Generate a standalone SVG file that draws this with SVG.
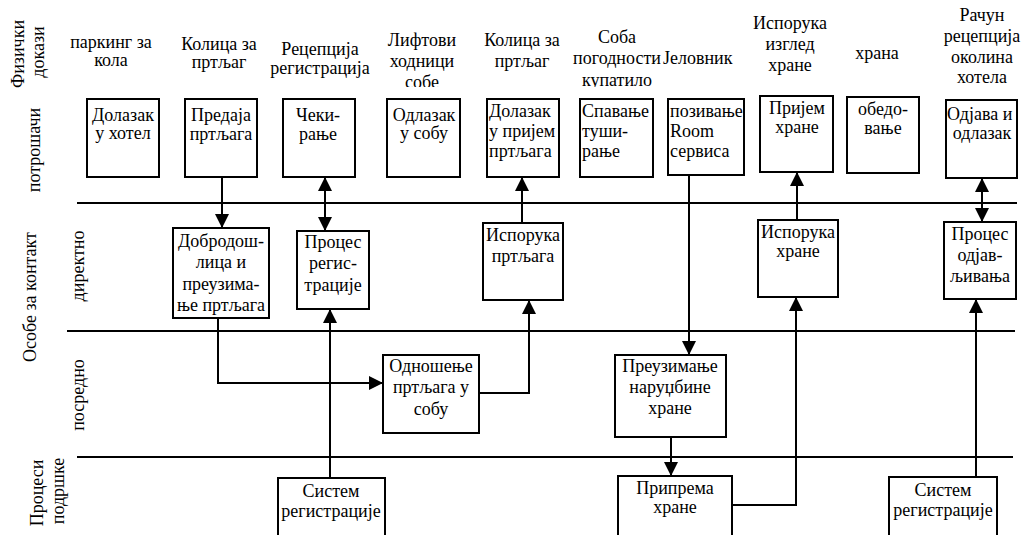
<svg xmlns="http://www.w3.org/2000/svg" width="1022" height="535" viewBox="0 0 1022 535">
<style>
text{font-family:"Liberation Serif","Times New Roman",serif;font-size:18px;fill:#000}
.m{text-anchor:middle}
.box{fill:#fff;stroke:#000;stroke-width:2}
.ln{fill:none;stroke:#000;stroke-width:2}
</style>
<defs>
<marker id="ah" viewBox="0 0 14 14" refX="14" refY="7" markerWidth="14" markerHeight="14" markerUnits="userSpaceOnUse" orient="auto-start-reverse">
<path d="M0,0 L14,7 L0,14 Z" fill="#000"/>
</marker>
<clipPath id="clipTop"><rect x="0" y="0" width="1022" height="87"/></clipPath>
</defs>
<rect width="1022" height="535" fill="#fff"/>

<g id="lanes">
<line class="ln" x1="77" y1="203" x2="1017" y2="203"/>
<line class="ln" x1="67" y1="331" x2="1015" y2="331"/>
<line class="ln" x1="77" y1="457" x2="1013" y2="457"/>
</g>

<g id="lane-labels">
<text class="m" transform="translate(24,54) rotate(-90)">Физички</text>
<text class="m" transform="translate(44,52) rotate(-90)">докази</text>
<text class="m" transform="translate(40,150) rotate(-90)">потрошачи</text>
<text class="m" transform="translate(36,297) rotate(-90)">Особе за контакт</text>
<text class="m" transform="translate(84,266) rotate(-90)">директно</text>
<text class="m" transform="translate(84,395) rotate(-90)">посредно</text>
<text class="m" transform="translate(43,493) rotate(-90)">Процеси</text>
<text class="m" transform="translate(64,491) rotate(-90)">подршке</text>
</g>

<g id="evidence">
<text class="m" x="111" y="48">паркинг за</text>
<text class="m" x="111" y="66">кола</text>
<text class="m" x="219" y="50">Колица за</text>
<text class="m" x="219" y="68">пртљаг</text>
<text class="m" x="320" y="55">Рецепција</text>
<text class="m" x="320" y="74">регистрација</text>
<g clip-path="url(#clipTop)">
<text class="m" x="422" y="46">Лифтови</text>
<text class="m" x="422" y="67">ходници</text>
<text class="m" x="422" y="88">собе</text>
<text class="m" x="617" y="86">купатило</text>
</g>
<text class="m" x="522" y="46">Колица за</text>
<text class="m" x="522" y="67">пртљаг</text>
<text class="m" x="617" y="43">Соба</text>
<text class="m" x="617" y="64">погодности</text>
<text x="663" y="64">Јеловник</text>
<text class="m" x="790" y="29">Испорука</text>
<text class="m" x="790" y="50">изглед</text>
<text class="m" x="790" y="71">хране</text>
<text class="m" x="877" y="59">храна</text>
<text class="m" x="982" y="21">Рачун</text>
<text class="m" x="982" y="42">рецепција</text>
<text class="m" x="982" y="63">околина</text>
<text class="m" x="982" y="83">хотела</text>
</g>

<g id="connectors">
<line class="ln" x1="222" y1="177" x2="222" y2="228" marker-end="url(#ah)"/>
<line class="ln" x1="325" y1="177" x2="325" y2="231" marker-start="url(#ah)" marker-end="url(#ah)"/>
<line class="ln" x1="330" y1="478" x2="330" y2="309" marker-end="url(#ah)"/>
<polyline class="ln" points="218,318 218,383 383,383" marker-end="url(#ah)"/>
<polyline class="ln" points="480,393 529,393 529,300" marker-end="url(#ah)"/>
<line class="ln" x1="522" y1="223" x2="522" y2="177" marker-end="url(#ah)"/>
<line class="ln" x1="689" y1="175" x2="689" y2="355" marker-end="url(#ah)"/>
<line class="ln" x1="671" y1="437" x2="671" y2="476" marker-end="url(#ah)"/>
<polyline class="ln" points="732,505 796,505 796,297" marker-end="url(#ah)"/>
<line class="ln" x1="797" y1="220" x2="797" y2="172" marker-end="url(#ah)"/>
<line class="ln" x1="976" y1="477" x2="976" y2="299" marker-end="url(#ah)"/>
<line class="ln" x1="982" y1="178" x2="982" y2="222" marker-start="url(#ah)" marker-end="url(#ah)"/>
</g>

<g id="n-dolazak-hotel">
<rect class="box" x="87" y="99" width="72" height="78"/>
<text class="m" x="123" y="121">Долазак</text>
<text class="m" x="123" y="139">у хотел</text>
</g>
<g id="n-predaja">
<rect class="box" x="185" y="99" width="72" height="78"/>
<text class="m" x="221" y="121">Предаја</text>
<text class="m" x="221" y="140">пртљага</text>
</g>
<g id="n-cekiranje">
<rect class="box" x="283" y="99" width="72" height="78"/>
<text class="m" x="318" y="121">Чеки-</text>
<text class="m" x="318" y="140">рање</text>
</g>
<g id="n-odlazak-soba">
<rect class="box" x="387" y="99" width="73" height="78"/>
<text class="m" x="424" y="121">Одлазак</text>
<text class="m" x="424" y="139">у собу</text>
</g>
<g id="n-dolazak-prijem">
<rect class="box" x="487" y="99" width="72" height="78"/>
<text x="489" y="117">Долазак</text>
<text x="489" y="137">у пријем</text>
<text x="489" y="157">пртљага</text>
</g>
<g id="n-spavanje">
<rect class="box" x="580" y="99" width="73" height="78"/>
<text x="582" y="117">Спавање</text>
<text x="582" y="137">туши-</text>
<text x="582" y="157">рање</text>
</g>
<g id="n-pozivanje">
<rect class="box" x="668" y="99" width="76" height="76"/>
<text x="670" y="117">позивање</text>
<text x="670" y="137">Room</text>
<text x="670" y="157">сервиса</text>
</g>
<g id="n-prijem-hrane">
<rect class="box" x="760" y="96" width="73" height="76"/>
<text class="m" x="797" y="114">Пријем</text>
<text class="m" x="797" y="133">хране</text>
</g>
<g id="n-obedovanje">
<rect class="box" x="847" y="97" width="72" height="76"/>
<text class="m" x="883" y="115">обедо-</text>
<text class="m" x="883" y="134">вање</text>
</g>
<g id="n-odjava">
<rect class="box" x="946" y="100" width="71" height="78"/>
<text x="947" y="120">Одјава и</text>
<text class="m" x="982" y="139">одлазак</text>
</g>

<g id="n-dobrodoslica">
<rect class="box" x="173" y="228" width="96" height="90"/>
<text class="m" x="221" y="247">Добродош-</text>
<text class="m" x="221" y="268">лица и</text>
<text class="m" x="221" y="290">преузима-</text>
<text class="m" x="221" y="311">ње пртљага</text>
</g>
<g id="n-proces-registracije">
<rect class="box" x="297" y="231" width="72" height="78"/>
<text class="m" x="333" y="248">Процес</text>
<text class="m" x="333" y="269">регис-</text>
<text class="m" x="333" y="291">трације</text>
</g>
<g id="n-isporuka-prtljaga">
<rect class="box" x="483" y="223" width="80" height="77"/>
<text class="m" x="523" y="241">Испорука</text>
<text class="m" x="523" y="262">пртљага</text>
</g>
<g id="n-isporuka-hrane">
<rect class="box" x="758" y="220" width="80" height="77"/>
<text class="m" x="798" y="238">Испорука</text>
<text class="m" x="798" y="257">хране</text>
</g>
<g id="n-proces-odjavljivanja">
<rect class="box" x="944" y="222" width="72" height="77"/>
<text class="m" x="980" y="240">Процес</text>
<text class="m" x="980" y="261">одјав-</text>
<text class="m" x="980" y="282">љивања</text>
</g>

<g id="n-odnosenje">
<rect class="box" x="383" y="355" width="96" height="78"/>
<text class="m" x="431" y="372">Одношење</text>
<text class="m" x="431" y="393">пртљага у</text>
<text class="m" x="431" y="415">собу</text>
</g>
<g id="n-preuzimanje">
<rect class="box" x="615" y="355" width="111" height="82"/>
<text class="m" x="670" y="372">Преузимање</text>
<text class="m" x="670" y="393">наруџбине</text>
<text class="m" x="670" y="414">хране</text>
</g>

<g id="n-sistem-1">
<rect class="box" x="278" y="478" width="107" height="70"/>
<text class="m" x="331" y="497">Систем</text>
<text class="m" x="331" y="517">регистрације</text>
</g>
<g id="n-priprema">
<rect class="box" x="618" y="476" width="114" height="72"/>
<text class="m" x="675" y="494">Припрема</text>
<text class="m" x="675" y="513">хране</text>
</g>
<g id="n-sistem-2">
<rect class="box" x="889" y="477" width="108" height="71"/>
<text class="m" x="943" y="496">Систем</text>
<text class="m" x="943" y="516">регистрације</text>
</g>
</svg>
